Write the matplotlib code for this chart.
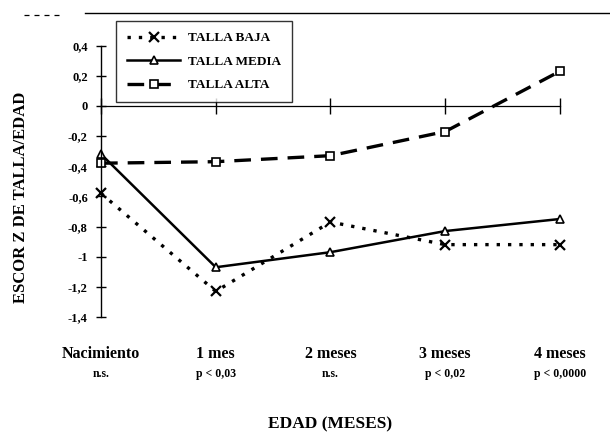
import matplotlib

matplotlib.use("Agg", force=True)

import matplotlib.pyplot as plt
from matplotlib.lines import Line2D
from matplotlib.transforms import blended_transform_factory

# data
edades = ["Nacimiento", "1 mes", "2 meses", "3 meses", "4 meses"]
p_valores = ["n.s.", "p < 0,03", "n.s.", "p < 0,02", "p < 0,0000"]
talla_baja = [-0.58, -1.23, -0.77, -0.92, -0.92]
talla_media = [-0.32, -1.07, -0.97, -0.83, -0.75]
talla_alta = [-0.38, -0.37, -0.33, -0.17, 0.23]
y_ticks = [0.4, 0.2, 0, -0.2, -0.4, -0.6, -0.8, -1, -1.2, -1.4]

SERIF = ["Liberation Serif", "DejaVu Serif"]
plt.rcParams.update({
    "font.family": SERIF,
    "font.weight": "bold",
    "axes.linewidth": 1.0,
})

fig = plt.figure(figsize=(6.10, 4.43), dpi=100)
ax = fig.add_axes([0.1656, 0.2844, 0.7524, 0.6127])

x = list(range(len(edades)))
ax.plot(x, talla_baja, color="black", lw=2.4, ls=(0, (1, 2.4)),
        marker="x", ms=7, mew=1.6, label="TALLA BAJA", clip_on=False)
ax.plot(x, talla_media, color="black", lw=1.8, ls="-",
        marker="^", ms=6, mfc="white", mew=1.2, label="TALLA MEDIA", clip_on=False)
ax.plot(x, talla_alta, color="black", lw=2.4, ls=(0, (5, 3)),
        marker="s", ms=6, mfc="white", mew=1.2, label="TALLA ALTA", clip_on=False)

ax.set_xlim(0, 4)
ax.set_ylim(-1.4, 0.4)
ax.set_yticks(y_ticks)
ax.set_yticklabels([f"{v:g}".replace(".", ",") for v in y_ticks])
ax.set_xticks(x)
ax.set_xticklabels([])

for side in ("top", "right"):
    ax.spines[side].set_visible(False)
ax.spines["bottom"].set_position(("data", 0))
ax.spines["bottom"].set_linewidth(0.9)
ax.tick_params(axis="y", direction="inout", length=7, width=1, labelsize=9, pad=6)
ax.tick_params(axis="x", direction="inout", length=12, width=1)
for lab in ax.get_yticklabels():
    lab.set_fontweight("bold")

trans = blended_transform_factory(ax.transData, ax.transAxes)
for xi, (edad, pv) in enumerate(zip(edades, p_valores)):
    ax.text(xi, -0.135, edad, transform=trans, ha="center", va="center",
            fontsize=11.5, fontweight="bold")
    ax.text(xi, -0.21, pv, transform=trans, ha="center", va="center",
            fontsize=8.5, fontweight="bold")

fig.text(0.541, 0.041, "EDAD (MESES)", ha="center", va="center",
         fontsize=12.5, fontweight="bold")
fig.text(0.035, 0.555, "ESCOR Z DE TALLA/EDAD", rotation=90, ha="center",
         va="center", fontsize=12, fontweight="bold")

leg = fig.legend(loc="upper left", bbox_to_anchor=(0.19, 0.953),
                 fontsize=9.5, frameon=True, fancybox=False, handlelength=4.0,
                 borderpad=0.85, labelspacing=0.85, handletextpad=0.6,
                 borderaxespad=0)
leg.get_frame().set_edgecolor("black")
leg.get_frame().set_linewidth(1.0)
for t in leg.get_texts():
    t.set_fontweight("bold")

# scan border remnants
fig.add_artist(Line2D([0.14, 1.0], [0.971, 0.971], color="black", lw=1.0,
                      transform=fig.transFigure))
fig.add_artist(Line2D([0.04, 0.10], [0.966, 0.966], color="black", lw=0.9,
                      ls=(0, (4, 4)), transform=fig.transFigure))

fig.savefig("out.png", dpi=100, facecolor="white")
